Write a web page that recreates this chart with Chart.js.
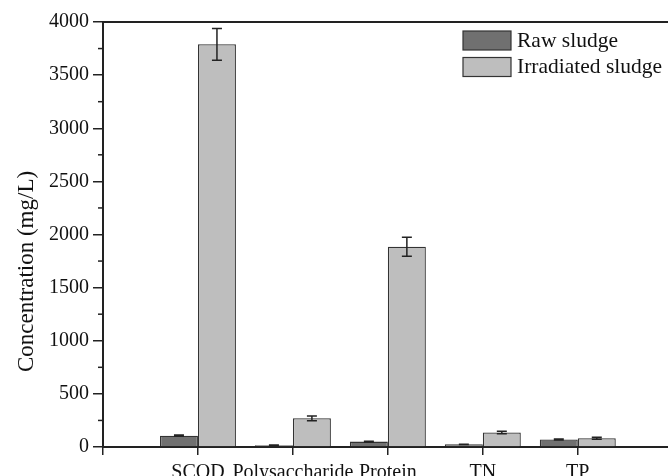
<!DOCTYPE html>
<html lang="en">
<head>
  <meta charset="UTF-8">
  <title>Sludge concentration</title>
  <script src="https://cdn.jsdelivr.net/npm/chart.js"></script>
  <style>
    html, body { margin: 0; padding: 0; background: #fff; }
    #wrap { width: 668px; height: 476px; }
  </style>
</head>
<body>
  <div id="wrap"><canvas id="myChart" width="668" height="476"></canvas></div>
  <script>
    // values (mg/L)
    const categories = ['SCOD', 'Polysaccharide', 'Protein', 'TN', 'TP'];
    const rawSludge = [107, 16, 51, 25, 70];
    const rawErr = [5, 3, 4, 2, 5];
    const irradiatedSludge = [3790, 270, 1885, 136, 82];
    const irradiatedErr = [150, 22, 90, 12, 10];
    const yTicks = [0, 500, 1000, 1500, 2000, 2500, 3000, 3500, 4000];
    const yMinorTicks = [250, 750, 1250, 1750, 2250, 2750, 3250, 3750];
    const yTitle = 'Concentration (mg/L)';

    const FONT = "'Liberation Serif', 'Times New Roman', serif";

    const toPoints = arr => arr.map((v, i) => ({ x: i + 1, y: v }));

    // error bars drawn through the y scale
    const errorBars = {
      id: 'errorBars',
      afterDatasetsDraw(chart) {
        const ctx = chart.ctx;
        const yScale = chart.scales.y;
        const errs = [rawErr, irradiatedErr];
        ctx.save();
        ctx.strokeStyle = '#222';
        ctx.lineWidth = 1.5;
        chart.data.datasets.forEach((ds, di) => {
          const meta = chart.getDatasetMeta(di);
          meta.data.forEach((bar, i) => {
            const v = ds.data[i].y;
            const e = errs[di][i];
            const top = yScale.getPixelForValue(v + e);
            const bot = yScale.getPixelForValue(v - e);
            const half = 5;
            ctx.beginPath();
            ctx.moveTo(bar.x, top); ctx.lineTo(bar.x, bot);
            ctx.moveTo(bar.x - half, top); ctx.lineTo(bar.x + half, top);
            ctx.moveTo(bar.x - half, bot); ctx.lineTo(bar.x + half, bot);
            ctx.stroke();
          });
        });
        ctx.restore();
      }
    };

    // top frame line, minor y ticks, axis title and legend box
    const frame = {
      id: 'frame',
      afterDraw(chart) {
        const ctx = chart.ctx;
        const area = chart.chartArea;
        const yScale = chart.scales.y;
        ctx.save();
        ctx.strokeStyle = '#222';
        ctx.lineWidth = 2;
        ctx.beginPath();
        ctx.moveTo(area.left - 1, area.top);
        ctx.lineTo(area.right, area.top);
        ctx.stroke();

        ctx.lineWidth = 1.5;
        yMinorTicks.forEach(v => {
          const py = yScale.getPixelForValue(v);
          ctx.beginPath();
          ctx.moveTo(area.left - 5, py);
          ctx.lineTo(area.left, py);
          ctx.stroke();
        });

        // y title, sits a bit below the axis middle like the original
        ctx.save();
        ctx.translate(27, (area.top + area.bottom) / 2 + 37);
        ctx.rotate(-Math.PI / 2);
        ctx.font = '23px ' + FONT;
        ctx.fillStyle = '#111';
        ctx.textAlign = 'center';
        ctx.textBaseline = 'middle';
        ctx.fillText(yTitle, 0, 0);
        ctx.restore();

        // legend
        const lx = area.right - 205;
        let ly = area.top + 9;
        ctx.font = '21.5px ' + FONT;
        ctx.textBaseline = 'middle';
        ctx.textAlign = 'left';
        chart.data.datasets.forEach(ds => {
          ctx.fillStyle = ds.backgroundColor;
          ctx.fillRect(lx, ly, 48, 19);
          ctx.strokeStyle = '#333';
          ctx.lineWidth = 1.2;
          ctx.strokeRect(lx, ly, 48, 19);
          ctx.fillStyle = '#111';
          ctx.fillText(ds.label, lx + 54, ly + 10);
          ly += 26.5;
        });
        ctx.restore();
      }
    };

    const ctx = document.getElementById('myChart').getContext('2d');
    const myChart = new Chart(ctx, {
      type: 'bar',
      data: {
        datasets: [
          {
            label: 'Raw sludge',
            data: toPoints(rawSludge),
            backgroundColor: '#707070',
            borderColor: '#333',
            borderWidth: 1.3
          },
          {
            label: 'Irradiated sludge',
            data: toPoints(irradiatedSludge),
            backgroundColor: '#bebebe',
            borderColor: '#333',
            borderWidth: 1.3
          }
        ]
      },
      options: {
        responsive: false,
        animation: false,
        devicePixelRatio: 1,
        categoryPercentage: 0.8,
        barPercentage: 1,
        layout: { padding: { top: 22, right: 0, left: 0, bottom: 0 } },
        plugins: {
          legend: { display: false },
          tooltip: { enabled: false }
        },
        scales: {
          x: {
            type: 'linear',
            offset: false,
            min: 0,
            max: 5.95,
            afterBuildTicks: scale => {
              scale.ticks = [0, 1, 2, 3, 4, 5].map(v => ({ value: v }));
            },
            afterFit: scale => { scale.height = 29; },
            ticks: {
              autoSkip: false,
              maxRotation: 0,
              padding: 6,
              color: '#111',
              font: { family: FONT, size: 20 },
              callback: v => categories[v - 1] || ''
            },
            grid: {
              offset: false,
              drawOnChartArea: false,
              drawTicks: true,
              tickLength: 8,
              color: '#222',
              lineWidth: 1.5
            },
            border: { display: true, color: '#222', width: 2 }
          },
          y: {
            min: 0,
            max: 4000,
            afterBuildTicks: scale => {
              scale.ticks = yTicks.map(v => ({ value: v }));
            },
            afterFit: scale => { scale.width = 103; },
            ticks: {
              padding: 4,
              color: '#111',
              font: { family: FONT, size: 20 },
              callback: v => String(v)
            },
            grid: {
              drawOnChartArea: false,
              drawTicks: true,
              tickLength: 10,
              color: '#222',
              lineWidth: 1.5
            },
            border: { display: true, color: '#222', width: 2 }
          }
        }
      },
      plugins: [errorBars, frame]
    });
  </script>
</body>
</html>
